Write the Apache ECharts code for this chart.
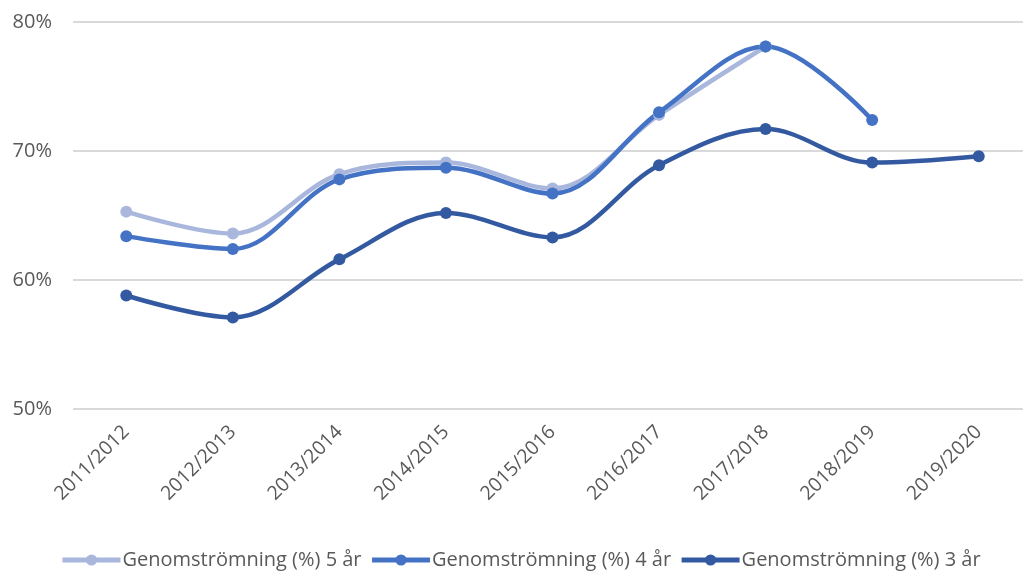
<!DOCTYPE html>
<html>
<head>
<meta charset="utf-8">
<script src="https://cdn.jsdelivr.net/npm/echarts@6/dist/echarts.min.js"></script>
<style>
  html, body { margin: 0; padding: 0; background: #fff; }
  #chart { width: 1023px; height: 572px; }
</style>
</head>
<body>
<div id="chart"></div>
<script>
// läsår på x-axeln
const categories = ['2011/2012', '2012/2013', '2013/2014', '2014/2015', '2015/2016',
                    '2016/2017', '2017/2018', '2018/2019', '2019/2020'];

// genomströmning i procent
const fem_ar  = [65.3, 63.6, 68.2, 69.1, 67.1, 72.8, 78.1, null, null];
const fyra_ar = [63.4, 62.4, 67.8, 68.7, 66.7, 73.0, 78.1, 72.4, null];
const tre_ar  = [58.8, 57.1, 61.6, 65.2, 63.3, 68.9, 71.7, 69.1, 69.6];

const yTicks = [50, 60, 70, 80];

const chart = echarts.init(document.getElementById('chart'));

function serie(name, data, color) {
    return {
        name: name,
        type: 'line',
        data: data,
        smooth: 0.35,
        symbol: 'circle',
        symbolSize: 12,
        lineStyle: { width: 4.5, color: color },
        itemStyle: { color: color },
        connectNulls: false
    };
}

const option = {
    animation: false,
    textStyle: { fontFamily: 'Open Sans, sans-serif' },
    grid: {
        left: 73,
        top: 22,
        width: 959,
        height: 387,
        containLabel: false,
        outerBoundsMode: 'none'
    },
    legend: {
        top: 545,
        left: 55,
        itemWidth: 58,
        itemHeight: 14,
        itemGap: 8,
        lineStyle: { width: 5 },
        textStyle: { fontSize: 20, color: '#595959', padding: [0, 0, 0, -3] },
        data: ['Genomströmning (%) 5 år', 'Genomströmning (%) 4 år', 'Genomströmning (%) 3 år']
    },
    xAxis: {
        type: 'category',
        data: categories,
        boundaryGap: true,
        axisLine: { show: false },
        axisTick: { show: false },
        axisLabel: {
            rotate: 45,
            fontSize: 19.5,
            color: '#595959',
            margin: 20,
            interval: 0
        }
    },
    yAxis: {
        type: 'value',
        min: yTicks[0],
        max: yTicks[yTicks.length - 1],
        interval: 10,
        axisLine: { show: false },
        axisTick: { show: false },
        splitLine: { lineStyle: { color: '#d9d9d9', width: 2 } },
        axisLabel: {
            formatter: '{value}%',
            fontSize: 20,
            color: '#595959',
            margin: 21
        }
    },
    series: [
        serie('Genomströmning (%) 5 år', fem_ar, '#a9b7dd'),
        serie('Genomströmning (%) 4 år', fyra_ar, '#4472c4'),
        serie('Genomströmning (%) 3 år', tre_ar, '#335aa1')
    ]
};

chart.setOption(option);
</script>
</body>
</html>
